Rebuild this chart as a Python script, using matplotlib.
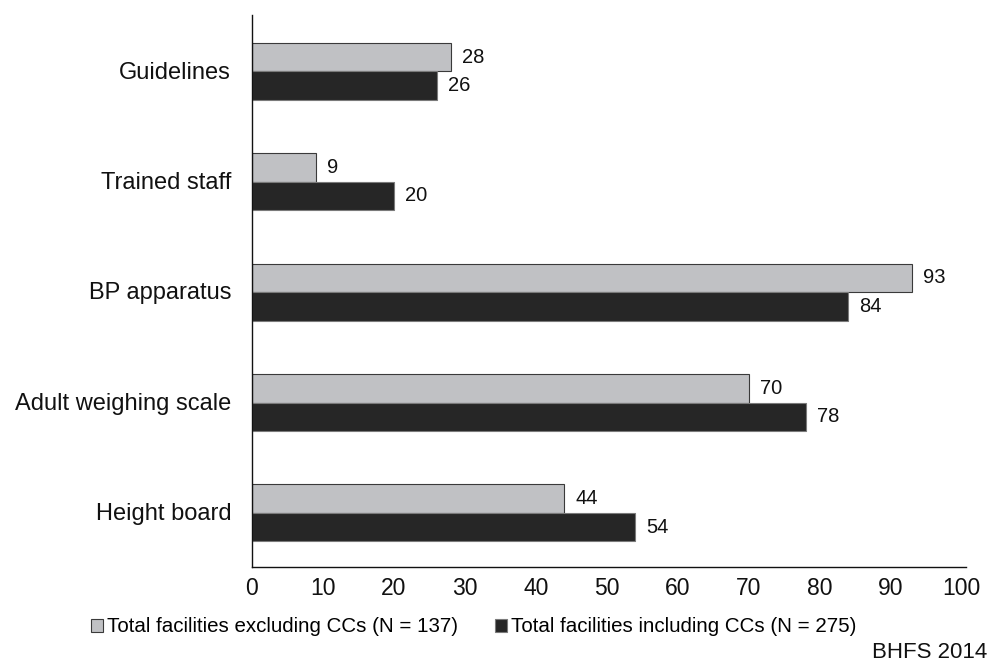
import numpy as np
import matplotlib
matplotlib.use("Agg")
from matplotlib import pyplot as plt
from matplotlib.patches import Patch

plt.rcParams['font.family'] = ['Liberation Sans', 'DejaVu Sans']

# data
categories = ["Guidelines", "Trained staff", "BP apparatus", "Adult weighing scale", "Height board"]
excl_ccs = [28, 9, 93, 70, 44]
incl_ccs = [26, 20, 84, 78, 54]
series_names = ["Total facilities excluding CCs (N = 137)", "Total facilities including CCs (N = 275)"]
x_ticks = [0, 10, 20, 30, 40, 50, 60, 70, 80, 90, 100]

grey = "#c0c1c4"
black = "#262626"

fig = plt.figure(figsize=(9.91, 6.68), dpi=100)
ax = fig.add_axes([252/991, 1-567/668, (966-252)/991, (567-15)/668])

y = np.arange(len(categories))
h = 0.258
b1 = ax.barh(y - h/2 + 0.01, excl_ccs, height=h, color=grey, edgecolor="#3a3a3a", linewidth=0.8)
b2 = ax.barh(y + h/2 + 0.01, incl_ccs, height=h, color=black, edgecolor="#7a7a7a", linewidth=0.8)

# value labels
for bars, vals in ((b1, excl_ccs), (b2, incl_ccs)):
    for r, v in zip(bars, vals):
        ax.annotate(str(v), (r.get_width(), r.get_y() + r.get_height()/2),
                    xytext=(8, 0), textcoords="offset points",
                    ha="left", va="center", fontsize=14.5, color="#111111")

ax.set_xlim(0, 100.6)
ax.set_ylim(len(categories) - 0.5, -0.5)
ax.set_xticks(x_ticks)
ax.set_yticks(y)
ax.set_yticklabels(categories, fontsize=17, color="#111111")
ax.tick_params(axis="x", length=0, pad=7, labelsize=16.5, labelcolor="#111111")
ax.tick_params(axis="y", length=0, pad=15)
ax.spines["top"].set_visible(False)
ax.spines["right"].set_visible(False)
for s in ("left", "bottom"):
    ax.spines[s].set_linewidth(1.0)
    ax.spines[s].set_color("#111111")

handles = [Patch(facecolor=grey, edgecolor="#3a3a3a", linewidth=0.8),
           Patch(facecolor=black, edgecolor="#7a7a7a", linewidth=0.8)]
fig.legend(handles, series_names, loc="center left", ncol=2, frameon=False,
           bbox_to_anchor=(91/991, 1-627/668), borderpad=0, borderaxespad=0,
           handlelength=0.58, handleheight=0.58, handletextpad=0.2,
           columnspacing=1.8, prop={"size": 14.8})

fig.text(987/991, 1-653/668, "BHFS 2014", ha="right", va="center", fontsize=16, color="#111111")

fig.savefig("out.png", dpi=100)
